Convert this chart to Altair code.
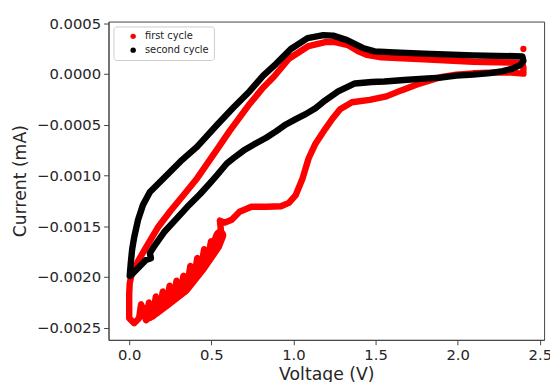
import altair as alt
import pandas as pd

# first cycle (red): anodic branch 0 -> 2.4 V, then cathodic branch 2.4 -> 0 V
red_v = [0.000, 0.003, 0.012, 0.030, 0.054, 0.096, 0.174, 0.252, 0.336, 0.414, 0.534, 0.612,
         0.732, 0.816, 0.882, 0.972, 1.092, 1.194, 1.254, 1.332, 1.392, 1.446, 1.536, 1.794, 2.094,
         2.394, 2.400, 2.400,
         2.292, 2.094, 1.992, 1.896, 1.752, 1.656, 1.566, 1.464, 1.356, 1.284, 1.236, 1.194, 1.134,
         1.092, 1.056, 1.014, 0.972, 0.924, 0.834, 0.744, 0.672, 0.624, 0.582, 0.552,
         0.558, 0.540, 0.522, 0.498, 0.480, 0.456, 0.438, 0.414, 0.396, 0.372, 0.354, 0.330, 0.312,
         0.288, 0.270, 0.246, 0.228, 0.204, 0.186, 0.162, 0.144, 0.120, 0.102, 0.084, 0.072, 0.060,
         0.030, 0.000, 0.000, 0.000]
red_i = [-0.002165, -0.002067, -0.001990, -0.001941, -0.001844, -0.001727, -0.001513,
         -0.001348, -0.001183, -0.001027, -0.000746, -0.000561, -0.000298, -0.000133, -0.000026,
         0.000149, 0.000275, 0.000314, 0.000314, 0.000285, 0.000226, 0.000188, 0.000163, 0.000144,
         0.000120, 0.000110, 0.000061, 0.000003,
         0.000017, 0.000006, -0.000007, -0.000031, -0.000104, -0.000162, -0.000221, -0.000255,
         -0.000279, -0.000347, -0.000444, -0.000541, -0.000687, -0.000833, -0.001027, -0.001193,
         -0.001270, -0.001304, -0.001309, -0.001309, -0.001358, -0.001436, -0.001465, -0.001445,
         -0.001533, -0.001589, -0.001725, -0.001650, -0.001815, -0.001727, -0.001902, -0.001815,
         -0.001999, -0.001892, -0.002077, -0.001990, -0.002145, -0.002038, -0.002213, -0.002087,
         -0.002281, -0.002145, -0.002330, -0.002194, -0.002388, -0.002252, -0.002427, -0.002310,
         -0.002271, -0.002407, -0.002456, -0.002407, -0.002291, -0.002165]

# noisy thick stretch of the first-cycle cathodic sweep (centre of the band)
band_v = [0.552, 0.528, 0.432, 0.336, 0.234, 0.156, 0.114]
band_i = [-0.001590, -0.001690, -0.001915, -0.002110, -0.002240, -0.002335, -0.002380]

# second cycle (black)
black_v = [0.003, 0.009, 0.018, 0.030, 0.054, 0.084, 0.126, 0.216, 0.312, 0.414, 0.534, 0.636,
           0.732, 0.816, 0.894, 0.984, 1.086, 1.182, 1.242, 1.326, 1.422, 1.494, 1.614, 1.794,
           2.094, 2.394, 2.400, 2.382, 2.334, 2.274, 2.196, 2.094, 1.992, 1.896, 1.794, 1.674,
           1.554, 1.476, 1.374, 1.272, 1.194, 1.134, 1.074, 1.014, 0.954, 0.894, 0.834, 0.762,
           0.696, 0.636, 0.594, 0.534, 0.492, 0.432, 0.354, 0.294, 0.216, 0.156, 0.126, 0.132,
           0.102, 0.066, 0.030, 0.006]
black_i = [-0.001990, -0.001873, -0.001727, -0.001611, -0.001436, -0.001290, -0.001163, -0.001018,
           -0.000862, -0.000716, -0.000503, -0.000328, -0.000172, -0.000017, 0.000100, 0.000246,
           0.000353, 0.000382, 0.000377, 0.000333, 0.000256, 0.000222, 0.000212, 0.000200,
           0.000183, 0.000173, 0.000129, 0.000090, 0.000052, 0.000027, 0.000008, -0.000007,
           -0.000017, -0.000036, -0.000046, -0.000060, -0.000075, -0.000080, -0.000094, -0.000172,
           -0.000260, -0.000337, -0.000396, -0.000445, -0.000498, -0.000566, -0.000629, -0.000692,
           -0.000755, -0.000828, -0.000882, -0.000998, -0.001076, -0.001183, -0.001309, -0.001416,
           -0.001552, -0.001688, -0.001766, -0.001815, -0.001834, -0.001893, -0.001951, -0.001990]

# isolated first-cycle point at the upper vertex
dot_v = [2.400]
dot_i = [0.000246]

x_ticks = [0.0, 0.5, 1.0, 1.5, 2.0, 2.5]
y_ticks = [-0.0025, -0.0020, -0.0015, -0.0010, -0.0005, 0.0000, 0.0005]
series = ["first cycle", "second cycle"]
colors = ["#ff0000", "#000000"]

red_df = pd.DataFrame({"V": red_v, "I": red_i, "idx": range(len(red_v))})
black_df = pd.DataFrame({"V": black_v, "I": black_i, "idx": range(len(black_v))})
band_df = pd.DataFrame({"V": band_v, "I": band_i, "idx": range(len(band_v))})
dots = pd.DataFrame({"V": dot_v, "I": dot_i, "cycle": series[0]})

font = "DejaVu Sans"
xscale = alt.Scale(domain=[-0.126, 2.526], nice=False, zero=False)
yscale = alt.Scale(domain=[-0.00262, 0.000516], nice=False, zero=False)

xaxis = alt.Axis(title="Voltage (V)", values=x_ticks, format=".1f", grid=False)
yaxis = alt.Axis(title="Current (mA)", values=y_ticks, format=".4f", grid=False)


def path(df, color, width):
    return alt.Chart(df).mark_line(
        strokeCap="round", strokeJoin="round"
    ).encode(
        x=alt.X("V:Q", scale=xscale, axis=xaxis),
        y=alt.Y("I:Q", scale=yscale, axis=yaxis),
        color=alt.value(color),
        strokeWidth=alt.value(width),
        order=alt.Order("idx:Q"),
    )


dot_layer = alt.Chart(dots).mark_circle(size=40, opacity=1).encode(
    x=alt.X("V:Q", scale=xscale, axis=xaxis),
    y=alt.Y("I:Q", scale=yscale, axis=yaxis),
    fill=alt.Fill(
        "cycle:N", scale=alt.Scale(domain=series, range=colors),
        legend=alt.Legend(
            title=None, orient="none", legendX=5, legendY=5,
            symbolType="circle", symbolSize=30, symbolOffset=10, symbolStrokeWidth=0,
            labelFontSize=10, labelFont=font, labelColor="#222",
            labelOffset=7, rowPadding=4, padding=5,
            strokeColor="#cccccc", fillColor="white", cornerRadius=3,
        ),
    ),
)

chart = alt.layer(
    path(red_df, colors[0], 6.5), path(band_df, colors[0], 13),
    path(black_df, colors[1], 6.5), dot_layer
).properties(
    width=442, height=323,
    autosize=alt.AutoSizeParams(type="none"),
    padding={"left": 102, "top": 11, "right": 6, "bottom": 40},
).configure_view(
    stroke="#444", strokeWidth=1
).configure_axis(
    labelFont=font, titleFont=font, labelFontSize=15, titleFontSize=17.5,
    titleFontWeight="normal", labelColor="#262626", titleColor="#262626",
    domainColor="#444", tickColor="#444", tickSize=5, labelPadding=3,
).configure_axisX(
    titlePadding=3
).configure_axisY(
    titlePadding=7
)

chart.save("out.html", embed_options={"renderer": "svg", "actions": False})
